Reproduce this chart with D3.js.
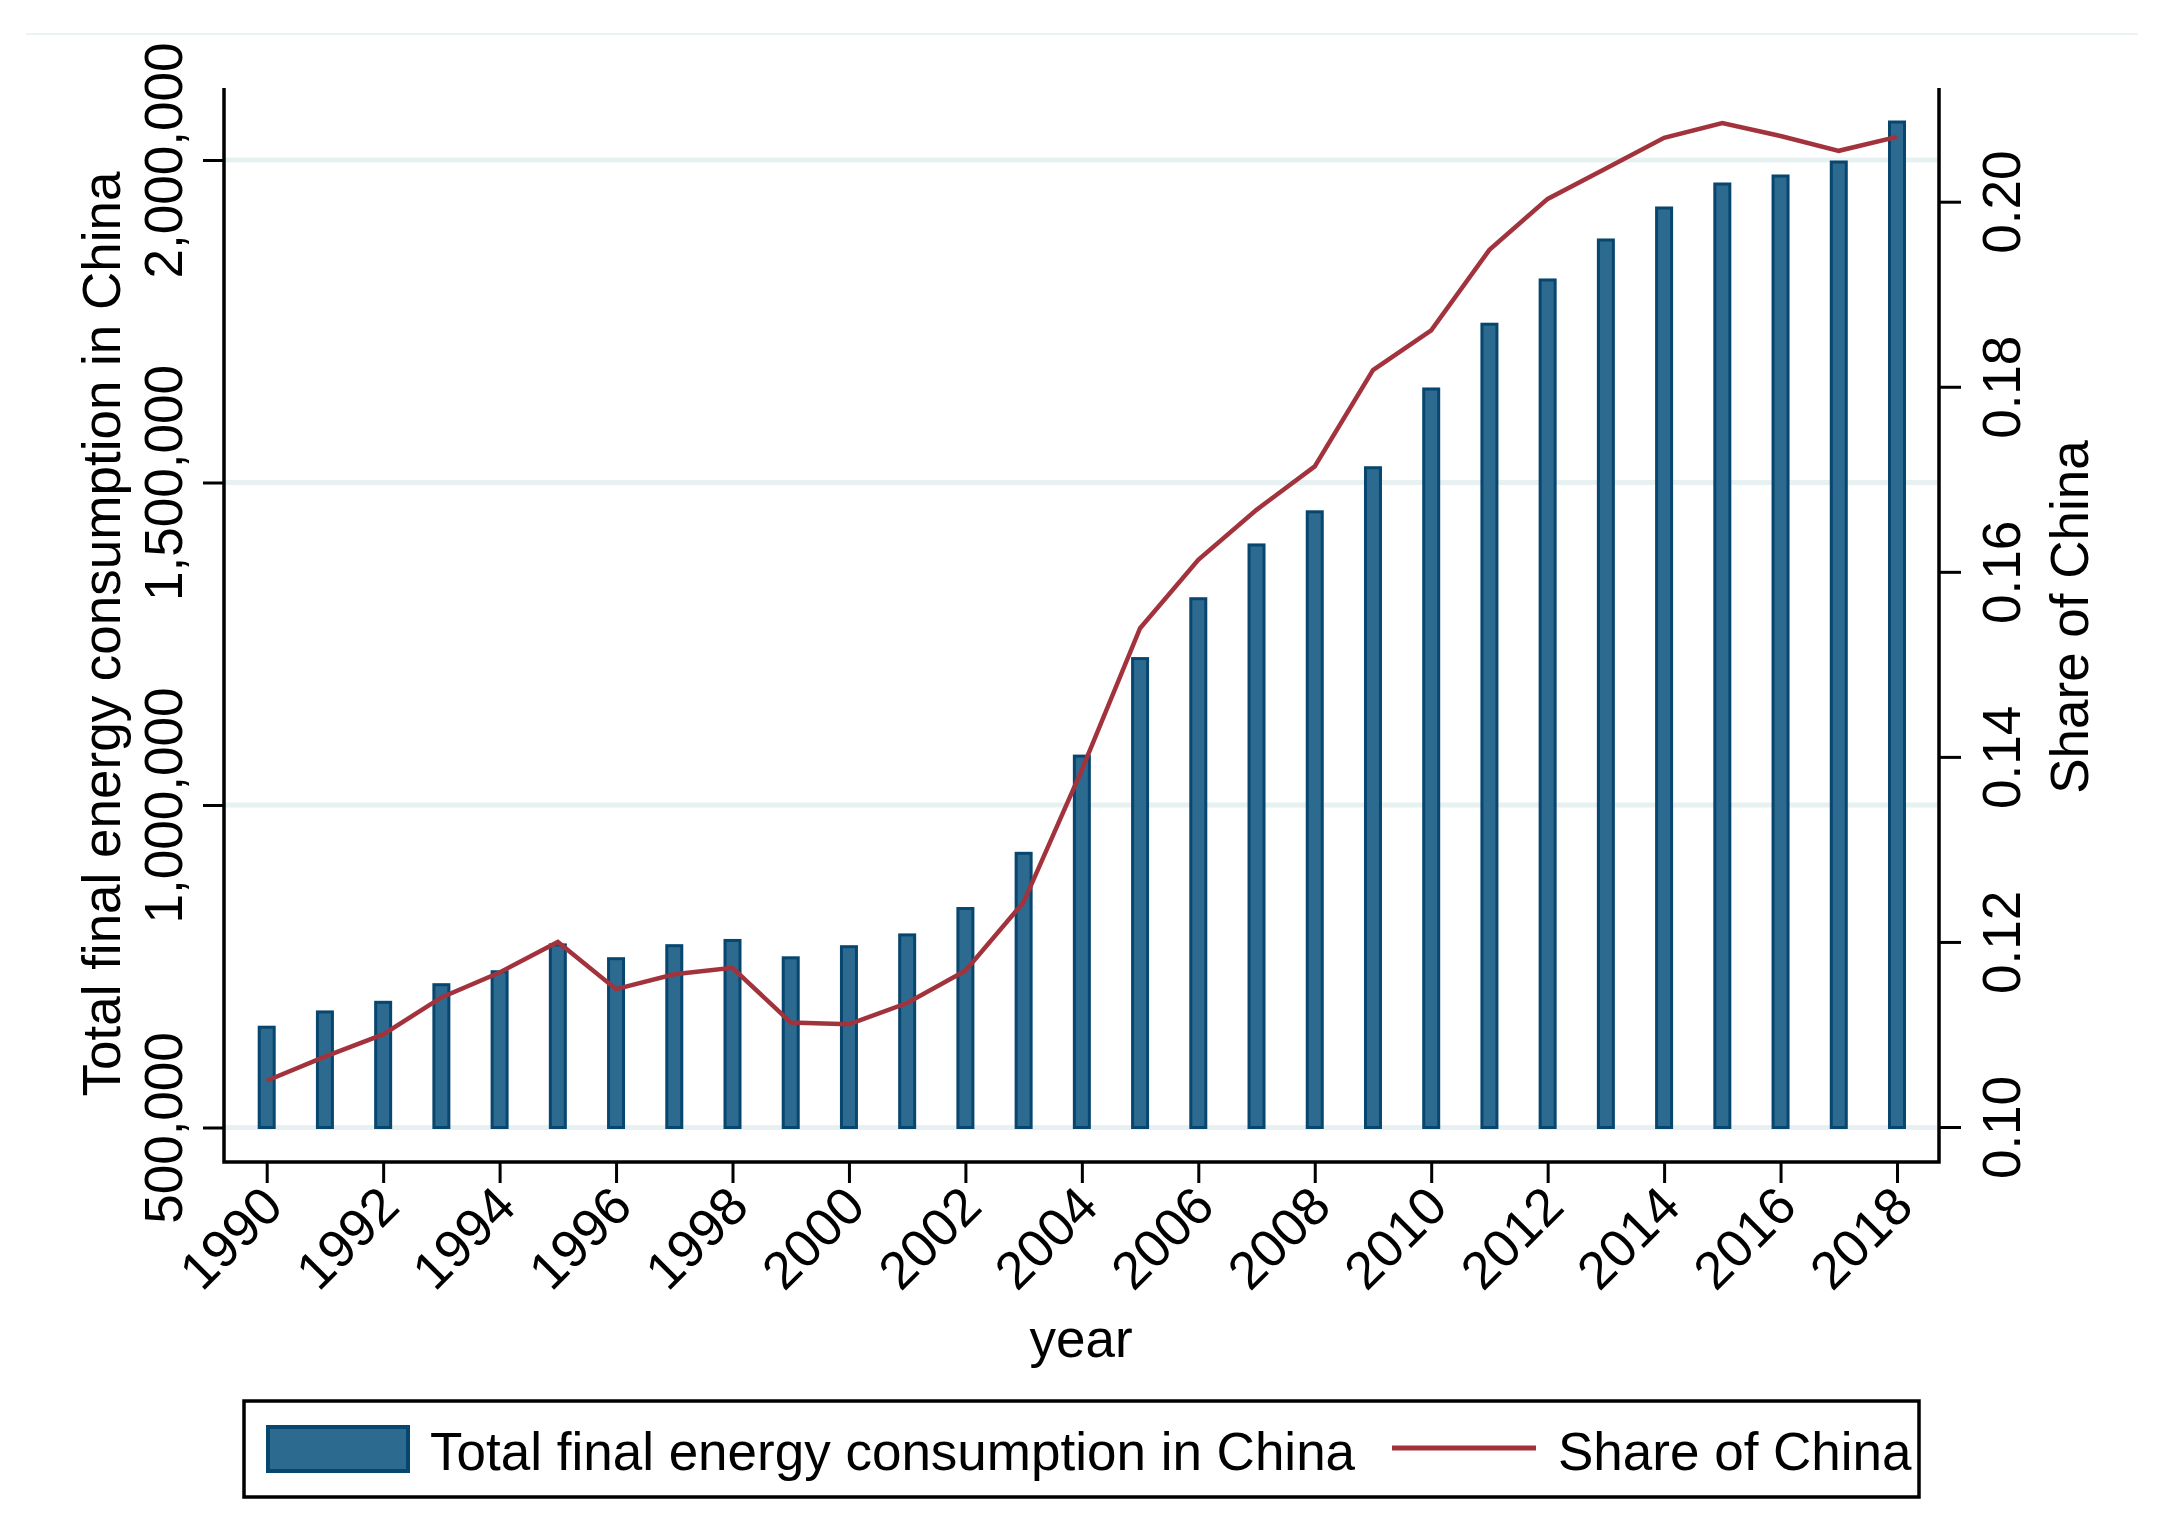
<!DOCTYPE html>
<html>
<head>
<meta charset="utf-8">
<script src="https://cdn.jsdelivr.net/npm/d3@7"></script>
<style>
  html, body { margin: 0; padding: 0; background: #ffffff; }
  svg { display: block; }
  text { font-family: "Liberation Sans", Arial, Helvetica, sans-serif; fill: #000; }
</style>
</head>
<body>
<svg id="chart" width="2163" height="1522"></svg>
<script>
// ---------- data ----------
const years = [1990,1991,1992,1993,1994,1995,1996,1997,1998,1999,2000,2001,2002,2003,2004,2005,2006,2007,2008,2009,2010,2011,2012,2013,2014,2015,2016,2017,2018];
const consumption = [655500,679200,694100,721400,741500,783100,761700,781900,790000,763100,780300,798600,839500,925100,1075800,1227000,1319800,1403200,1454600,1522900,1645000,1745400,1814000,1876000,1925600,1962800,1975200,1996900,2058900];
const share = [0.1050,0.1076,0.1100,0.1140,0.1167,0.1200,0.1149,0.1165,0.1172,0.1113,0.1111,0.1134,0.1169,0.1243,0.1386,0.1539,0.1613,0.1667,0.1714,0.1818,0.1861,0.1948,0.2003,0.2036,0.2069,0.2085,0.2071,0.2055,0.2070];
const xTicks = [1990,1992,1994,1996,1998,2000,2002,2004,2006,2008,2010,2012,2014,2016,2018];
const yLeftTicks = [500000,1000000,1500000,2000000];
const yRightTicks = [0.10,0.12,0.14,0.16,0.18,0.20];
const seriesNames = ["Total final energy consumption in China", "Share of China"];
const xTitle = "year";
const yLeftTitle = "Total final energy consumption in China";
const yRightTitle = "Share of China";

// ---------- layout ----------
const plot = { left: 224, right: 1939, top: 88, bottom: 1162 };
const FONT = 53;
const barFill = "#2d6a8f", barStroke = "#07466f", lineColor = "#a2333d", gridColor = "#e8f1f2";

const svg = d3.select("#chart");
svg.append("rect").attr("width", 2163).attr("height", 1522).attr("fill", "#fff");

// faint outer frame top edge
svg.append("line").attr("x1", 26).attr("x2", 2138).attr("y1", 34).attr("y2", 34)
  .attr("stroke", "#eaf2f3").attr("stroke-width", 2);

const x = d3.scaleLinear().domain([1990, 2018]).range([266.7, 1897]);
const yL = d3.scaleLinear().domain([500000, 2000000]).range([1127.5, 160]);
const yR = d3.scaleLinear().domain([0.10, 0.20]).range([1127, 201.7]);

// gridlines
svg.append("g").selectAll("line").data(yLeftTicks).join("line")
  .attr("x1", plot.left).attr("x2", plot.right - 2)
  .attr("y1", d => yL(d)).attr("y2", d => yL(d))
  .attr("stroke", gridColor).attr("stroke-width", 5);

// bars
const barW = 15;
svg.append("g").selectAll("rect").data(years).join("rect")
  .attr("x", (d) => x(d) - barW / 2)
  .attr("width", barW)
  .attr("y", (d, i) => yL(consumption[i]))
  .attr("height", (d, i) => yL(500000) - yL(consumption[i]))
  .attr("fill", barFill).attr("stroke", barStroke).attr("stroke-width", 3);

// line
const lineGen = d3.line().x((d) => x(d)).y((d, i) => yR(share[i]));
svg.append("path").datum(years).attr("d", lineGen)
  .attr("fill", "none").attr("stroke", lineColor).attr("stroke-width", 4.5)
  .attr("stroke-linejoin", "miter");

// axes
function styleAxis(g) {
  g.select(".domain").remove();
  g.selectAll(".tick line").attr("stroke", "#000").attr("stroke-width", 3);
  g.selectAll(".tick text").attr("font-size", FONT).attr("font-family", '"Liberation Sans", Arial, sans-serif').attr("fill", "#000");
}

// left axis
const gL = svg.append("g").attr("transform", `translate(${plot.left},0)`)
  .call(d3.axisLeft(yL).tickValues(yLeftTicks).tickSize(21).tickFormat(d3.format(",")));
styleAxis(gL);
gL.selectAll(".tick text").attr("x", null).attr("dy", null).attr("y", 0)
  .attr("text-anchor", "middle").attr("transform", "translate(-42,0) rotate(-90)");

// right axis
const gR = svg.append("g").attr("transform", `translate(${plot.right},0)`)
  .call(d3.axisRight(yR).tickValues(yRightTicks).tickSize(22).tickFormat(d3.format(".2f")));
styleAxis(gR);
gR.selectAll(".tick text").attr("x", null).attr("dy", null).attr("y", 0)
  .attr("text-anchor", "middle").attr("transform", "translate(81,0) rotate(-90)");

// bottom axis
const gB = svg.append("g").attr("transform", `translate(0,${plot.bottom})`)
  .call(d3.axisBottom(x).tickValues(xTicks).tickSize(21).tickFormat(d3.format("d")));
styleAxis(gB);
gB.selectAll(".tick text").attr("y", null).attr("x", null).attr("dy", "0.35em")
  .attr("text-anchor", "end").attr("transform", "translate(5,34) rotate(-45)");

// axis lines (left, bottom, right)
svg.append("path")
  .attr("d", `M${plot.left},${plot.top}V${plot.bottom}H${plot.right}V${plot.top}`)
  .attr("fill", "none").attr("stroke", "#000").attr("stroke-width", 3.5).attr("stroke-linejoin", "miter");

// titles
svg.append("text").attr("transform", "translate(120,634) rotate(-90)")
  .attr("text-anchor", "middle").attr("font-size", FONT).text(yLeftTitle);
svg.append("text").attr("transform", "translate(2088,617) rotate(-90)")
  .attr("text-anchor", "middle").attr("font-size", FONT).text(yRightTitle);
svg.append("text").attr("x", 1081).attr("y", 1357)
  .attr("text-anchor", "middle").attr("font-size", FONT).text(xTitle);

// legend
const lg = svg.append("g");
lg.append("rect").attr("x", 244).attr("y", 1401).attr("width", 1675).attr("height", 96)
  .attr("fill", "#fff").attr("stroke", "#000").attr("stroke-width", 3.5);
lg.append("rect").attr("x", 268).attr("y", 1427).attr("width", 140).attr("height", 44)
  .attr("fill", barFill).attr("stroke", barStroke).attr("stroke-width", 4);
lg.append("text").attr("x", 430).attr("y", 1470).attr("font-size", FONT).text(seriesNames[0]);
lg.append("line").attr("x1", 1392).attr("x2", 1536).attr("y1", 1448).attr("y2", 1448)
  .attr("stroke", lineColor).attr("stroke-width", 5);
lg.append("text").attr("x", 1558).attr("y", 1470).attr("font-size", FONT).text(seriesNames[1]);
</script>
</body>
</html>
